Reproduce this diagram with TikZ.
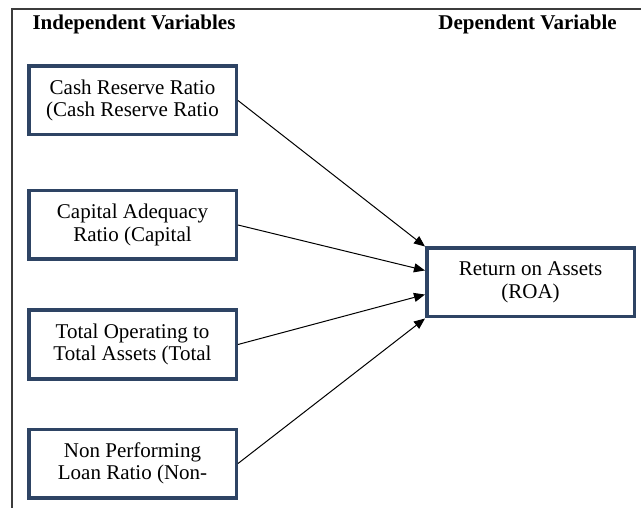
\documentclass[tikz,border=0pt]{standalone}
\usepackage{fontspec}
\setmainfont{Liberation Serif}
\usetikzlibrary{arrows.meta,calc}
\definecolor{boxblue}{RGB}{46,68,100}
\definecolor{framegray}{RGB}{60,60,60}
\tikzset{
  varbox/.style={draw=boxblue, line width=3.5pt, minimum width=207.5pt, minimum height=68.5pt,
    inner sep=0pt, align=center, font=\fontsize{21}{22.5}\selectfont},
  heading/.style={anchor=base, font=\bfseries\fontsize{21}{23}\selectfont},
  link/.style={line width=1pt, -{Triangle[length=11pt,width=9pt]}},
  frameline/.style={draw=framegray, line width=1.1pt}
}
\begin{document}
\begin{tikzpicture}[x=1pt,y=-1pt]
\useasboundingbox (0,0) rectangle (641,508);
% outer frame (top and left sides)
\draw[frameline] (12,508) -- (12,9) -- (641,9);
% headings
\node[heading] (indep) at (134,30) {Independent Variables};
\node[heading] (dep) at (527.5,30) {Dependent Variable};
% independent variables
\node[varbox] (crr) at (132.5,100.5) {Cash Reserve Ratio\\(Cash Reserve Ratio};
\node[varbox] (car) at (132.5,225) {Capital Adequacy\\Ratio (Capital};
\node[varbox] (tota) at (132.5,344.5) {Total Operating to\\Total Assets (Total};
\node[varbox] (npl) at (132.5,463.5) {Non Performing\\Loan Ratio (Non-};
% dependent variable
\node[varbox] (roa) at (530.5,282.5) {Return on Assets\\(ROA)};
% connectors
\coordinate (r0) at (roa.north west);
\coordinate (r1) at ($(roa.north west)!0.333!(roa.south west)$);
\coordinate (r2) at ($(roa.north west)!0.667!(roa.south west)$);
\coordinate (r3) at (roa.south west);
\draw[link] (crr.east) -- (r0);
\draw[link] (car.east) -- (r1);
\draw[link] (tota.east) -- (r2);
\draw[link] (npl.east) -- (r3);
\end{tikzpicture}
\end{document}
